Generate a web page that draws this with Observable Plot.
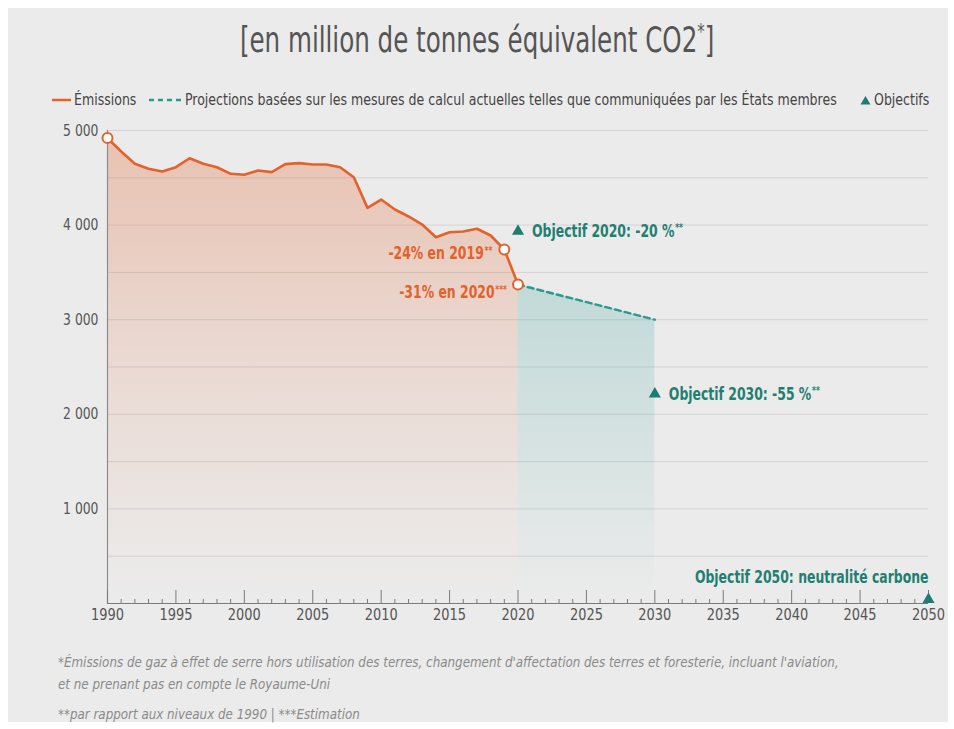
<!DOCTYPE html>
<html><head><meta charset="utf-8">
<script src="https://cdn.jsdelivr.net/npm/d3@7"></script>
<script src="https://cdn.jsdelivr.net/npm/@observablehq/plot@0.6"></script>
<style>
html,body{margin:0;padding:0;background:#ffffff;}
#page{position:relative;width:954px;height:729px;overflow:hidden;background:#fff;font-family:"DejaVu Sans Condensed","Liberation Sans Narrow",sans-serif;}
#panel{position:absolute;left:8px;top:8px;width:940px;height:714px;background:#ebebeb;}
#title{position:absolute;top:20px;left:0;width:954px;text-align:center;font-size:35px;color:#555;white-space:nowrap;}
#title span{display:inline-block;transform:scaleX(0.78);transform-origin:center;}
#title sup{font-size:60%;}
.leg{position:absolute;top:90px;font-size:15.5px;color:#444;white-space:nowrap;line-height:20px;display:flex;align-items:center;}
.leg svg{margin-right:3px;}
.leg span{display:inline-block;transform:scaleX(0.9);transform-origin:left center;}
#chart{position:absolute;top:110px;left:0;}
#notes{position:absolute;top:651px;left:58px;font-size:14.5px;color:#8a8a8a;font-style:italic;line-height:22px;white-space:nowrap;transform:scaleX(0.913);transform-origin:left top;}
#notes div.gap{margin-top:8px;}
</style></head>
<body>
<div id="page">
  <div id="panel"></div>
  <div id="title"><span>[en million de tonnes équivalent CO2<sup>*</sup>]</span></div>
  <div id="legendBox"></div>
  <div id="chart"></div>
  <div id="notes">
    <div>*Émissions de gaz à effet de serre hors utilisation des terres, changement d'affectation des terres et foresterie, incluant l'aviation,</div>
    <div>et ne prenant pas en compte le Royaume-Uni</div>
    <div class="gap">**par rapport aux niveaux de 1990 | ***Estimation</div>
  </div>
</div>
<script>
// ---- data ----
const years = d3.range(1990, 2021);
const emissions = [4920, 4778, 4648, 4595, 4567, 4612, 4707, 4648, 4612, 4542, 4532, 4577, 4560, 4645, 4655, 4641, 4641, 4612, 4506, 4182, 4270, 4165, 4091, 4006, 3872, 3925, 3932, 3961, 3890, 3742, 3372];
const projYears = [2020, 2030];
const projValues = [3372, 3000];
const targetYears = [2020, 2030, 2050];
const targetValues = [3936, 2214, 0];
const targetLabels = ["Objectif 2020: -20 %**", "Objectif 2030: -55 %**", "Objectif 2050: neutralité carbone"];
const markedYears = [1990, 2019, 2020];
const markedLabels = ["", "-24% en 2019**", "-31% en 2020***"];
const xTicks = d3.range(1990, 2051, 5);
const xMinor = d3.range(1990, 2051, 1).filter(y => y % 5 !== 0);
const yTicks = [1000, 2000, 3000, 4000, 5000];
const yGrid = d3.range(500, 5001, 500);
const legendLabels = ["Émissions", "Projections basées sur les mesures de calcul actuelles telles que communiquées par les États membres", "Objectifs"];

const ORANGE = "#e3622b";
const TEAL = "#2a9a8e";
const TEAL_TXT = "#1f7f70";
const FONT = `"DejaVu Sans Condensed","Liberation Sans Narrow",sans-serif`;

const emis = years.map((y, i) => ({year: y, value: emissions[i]}));
const proj = projYears.map((y, i) => ({year: y, value: projValues[i]}));
const targets = targetYears.map((y, i) => ({year: y, value: targetValues[i], label: targetLabels[i]}));
const marked = markedYears.map((y, i) => ({year: y, value: emissions[years.indexOf(y)], label: markedLabels[i]}));

// gradient defs
const defs = () => {
  const g = d3.create("svg:defs");
  const o = g.append("linearGradient").attr("id", "gradO").attr("x1", 0).attr("x2", 0).attr("y1", 0).attr("y2", 1);
  [[0, 0.30], [0.45, 0.14], [0.85, 0.03], [1, 0]].forEach(([off, op]) =>
    o.append("stop").attr("offset", off).attr("stop-color", ORANGE).attr("stop-opacity", op));
  const t = g.append("linearGradient").attr("id", "gradT").attr("x1", 0).attr("x2", 0).attr("y1", 0).attr("y2", 1);
  [[0, 0.26], [0.55, 0.12], [0.9, 0.02], [1, 0]].forEach(([off, op]) =>
    t.append("stop").attr("offset", off).attr("stop-color", "#4aa9a2").attr("stop-opacity", op));
  return g.node();
};

const W = 954, H = 523, MT = 20, MB = 30;
const plotH = H - MT - MB;
const annStyle = {x: "year", y: "value", text: "label", fontWeight: "bold", fontSize: 17.5, className: "ann"};

const chart = Plot.plot({
  width: W, height: H,
  marginLeft: 107, marginRight: 26, marginTop: MT, marginBottom: MB,
  style: {background: "transparent", fontFamily: FONT, fontSize: "16px", color: "#555", overflow: "visible"},
  x: {domain: [1990, 2050], label: null},
  y: {domain: [0, 5000], label: null},
  marks: [
    defs,
    Plot.gridY(yGrid, {stroke: "#d3d3d3", strokeOpacity: 1, strokeWidth: 1}),
    Plot.areaY(emis, {x: "year", y: "value", fill: "url(#gradO)"}),
    Plot.areaY(proj, {x: "year", y: "value", fill: "url(#gradT)"}),
    Plot.ruleX([1990], {stroke: "#8c8c8c", strokeWidth: 1.2}),
    Plot.ruleY([0], {stroke: "#7a7a7a", strokeWidth: 1.2}),
    Plot.tickX(xMinor, {x: d => d, insetTop: plotH - 4, stroke: "#7a7a7a"}),
    Plot.tickX(xTicks, {x: d => d, insetTop: plotH - 13, stroke: "#7a7a7a"}),
    Plot.axisX({ticks: xTicks, tickSize: 0, tickPadding: 5, tickFormat: d => String(d), fontSize: 16, fill: "#555", label: null, className: "xax"}),
    Plot.axisY({ticks: yTicks, tickSize: 0, tickPadding: 9, tickFormat: d => d3.format(",")(d).replace(",", "\u00a0"), fontSize: 16, fill: "#555", label: null, className: "yax"}),
    Plot.line(emis, {x: "year", y: "value", stroke: ORANGE, strokeWidth: 2.6, strokeLinejoin: "round"}),
    Plot.line(proj, {x: "year", y: "value", stroke: TEAL, strokeWidth: 2.4, strokeDasharray: "6,4"}),
    Plot.dot(marked, {x: "year", y: "value", r: 5, fill: "white", stroke: ORANGE, strokeWidth: 2}),
    Plot.dot(targets.slice(0, 2), {x: "year", y: "value", symbol: "triangle", r: 4.5, fill: "#1d7d6f"}),
    Plot.dot(targets.slice(2), {x: "year", y: "value", symbol: "triangle", r: 4.5, fill: "#1d7d6f", dy: -4}),
    Plot.text(marked.slice(1, 2), {...annStyle, textAnchor: "end", dx: -12, dy: 4, fill: ORANGE}),
    Plot.text(marked.slice(2, 3), {...annStyle, textAnchor: "end", dx: -11, dy: 8, fill: ORANGE}),
    Plot.text(targets.slice(0, 2), {...annStyle, textAnchor: "start", dx: 14, fill: TEAL_TXT}),
    Plot.text(targets.slice(2), {...annStyle, textAnchor: "end", dy: -26, fill: TEAL_TXT})
  ]
});

// superscript asterisks
d3.select(chart).selectAll("text").each(function() {
  if (this.childElementCount) return;
  const s = this.textContent;
  const m = s.match(/^(.*?)(\*+)$/);
  if (!m) return;
  this.textContent = m[1];
  const t = document.createElementNS("http://www.w3.org/2000/svg", "tspan");
  t.setAttribute("font-size", "60%");
  t.setAttribute("baseline-shift", "55%");
  t.textContent = "\u200a" + m[2];
  this.appendChild(t);
});

// horizontal condensing of SVG texts around their anchor (vertical offsets untouched)
function squeeze(el, s) {
  let tr = el.getAttribute("transform") || "";
  const x = el.getAttribute("x");
  if (x != null && isFinite(+x) && +x !== 0) {
    el.removeAttribute("x");
    tr += ` translate(${+x},0)`;
  }
  el.setAttribute("transform", `${tr} scale(${s},1)`.trim());
}
d3.select(chart).selectAll(".ann text").each(function() { squeeze(this, 0.79); });
d3.select(chart).selectAll(".xax text").each(function() { squeeze(this, 0.9); });
d3.select(chart).selectAll(".yax text").each(function() { squeeze(this, 0.86); });

document.getElementById("chart").appendChild(chart);

// legend
const lb = document.getElementById("legendBox");
const items = [
  {left: 52, sw: `<svg width="19" height="10"><line x1="0" y1="5" x2="19" y2="5" stroke="${ORANGE}" stroke-width="2.5"/></svg>`, label: legendLabels[0]},
  {left: 148, sw: `<svg width="34" height="10"><line x1="1" y1="5" x2="34" y2="5" stroke="${TEAL}" stroke-width="2.4" stroke-dasharray="5,4"/></svg>`, label: legendLabels[1]},
  {left: 860, sw: `<svg width="11" height="10"><path d="M5.5 1 L10.5 9.5 L0.5 9.5 Z" fill="#1d7d6f"/></svg>`, label: legendLabels[2]}
];
items.forEach(it => {
  const d = document.createElement("div");
  d.className = "leg";
  d.style.left = it.left + "px";
  d.innerHTML = it.sw + `<span>${it.label}</span>`;
  lb.appendChild(d);
});
</script>
</body></html>
